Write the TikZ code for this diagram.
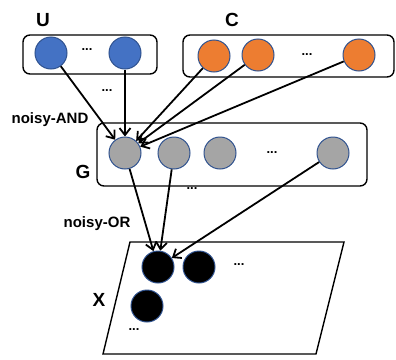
\documentclass[tikz,border=0pt]{standalone}
\usepackage{fontspec}
\setmainfont{Liberation Sans}
\usetikzlibrary{arrows.meta,positioning}

\definecolor{uBlue}{HTML}{4472C4}
\definecolor{cOrange}{HTML}{ED7D31}
\definecolor{gGray}{HTML}{A5A5A5}
\definecolor{rimBlue}{HTML}{2F528F}

\begin{document}
\begin{tikzpicture}[
    x=1pt, y=-1pt,
    every node/.style={font=\bfseries},
    var/.style={circle, draw=rimBlue, line width=1pt, fill=#1, minimum size=32pt, inner sep=0pt},
    var/.default=gGray,
    group/.style={draw, rounded corners=7pt, line width=1.4pt, minimum width=#1},
    setlabel/.style={font=\bfseries\fontsize{19}{19}\selectfont},
    rule/.style={font=\bfseries\fontsize{15}{15}\selectfont},
    dots/.style={font=\bfseries\fontsize{13}{13}\selectfont},
    arrow/.style={-{Straight Barb[length=7pt,width=11pt]}, line width=1.8pt}
]
    \useasboundingbox (0,0) rectangle (396,359);

    % U block
    \node[group=134pt, minimum height=39pt] (ubox) at (90,54.5) {};
    \node[var=uBlue] (u1) at (51,53) {};
    \node[var=uBlue] (u2) at (125,53) {};
    \node[dots] (udots) at (87,50) {...};
    \node[setlabel] (ulabel) at (43,20) {U};

    % C block
    \node[group=211pt, minimum height=42pt] (cbox) at (288.5,56) {};
    \node[var=cOrange] (c1) at (214,56) {};
    \node[var=cOrange] (c2) at (258,55) {};
    \node[var=cOrange] (c3) at (359,55) {};
    \node[dots] (cdots) at (307,55) {...};
    \node[setlabel] (clabel) at (232,20) {C};

    % G block
    \node[group=270pt, minimum height=63pt] (gbox) at (232,154.5) {};
    \node[var] (g1) at (125,153) {};
    \node[var] (g2) at (174,153) {};
    \node[var] (g3) at (220,153) {};
    \node[var] (g4) at (333,153) {};
    \node[dots] (gdots) at (272,153) {...};
    \node[setlabel] (glabel) at (83,172) {G};
    \node[dots] (gbdots) at (192,189) {...};
    \node[dots] (ugdots) at (107,91) {...};

    % X plane
    \coordinate (xtl) at (130,242);
    \coordinate (xtr) at (344,242);
    \coordinate (xbr) at (316,354);
    \coordinate (xbl) at (103,354);
    \draw[line width=1.4pt] (xtl) -- (xtr) -- (xbr) -- (xbl) -- cycle;
    \node[var=black] (x1) at (158,267) {};
    \node[var=black] (x2) at (199,267) {};
    \node[var=black] (x3) at (147,306) {};
    \node[dots] (xdots1) at (239,265) {...};
    \node[dots] (xdots2) at (134,330) {...};
    \node[setlabel] (xlabel) at (99,300) {X};

    % rule labels
    \node[rule] (andlabel) at (50,120) {noisy-AND};
    \node[rule] (orlabel) at (97,224) {noisy-OR};

    % Arrows
    \draw[arrow] (u1) -- (g1);
    \draw[arrow] (u2) -- (g1);
    \draw[arrow] (c1) -- (g1);
    \draw[arrow] (c2) -- (g1);
    \draw[arrow] (c3) -- (g1);
    \draw[arrow] (g1) -- (x1);
    \draw[arrow] (g2) -- (x1);
    \draw[arrow] (g4) -- (x1);
\end{tikzpicture}
\end{document}
